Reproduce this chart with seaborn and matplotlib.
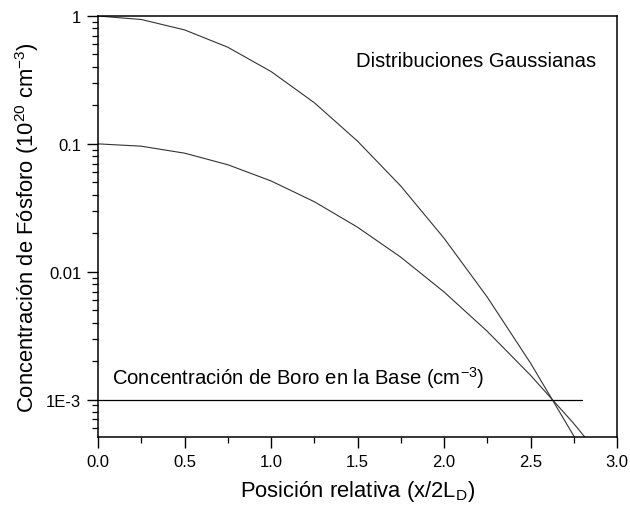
import matplotlib
matplotlib.use("Agg")
import matplotlib.pyplot as plt
import matplotlib.ticker as mticker
import numpy as np
import pandas as pd
import seaborn as sns

# Relative position x/2L_D
posicion = [0.0, 0.25, 0.5, 0.75, 1.0, 1.25, 1.5, 1.75, 2.0, 2.25, 2.5, 2.75, 3.0]
# Phosphorus profiles (10^20 cm^-3)
fosforo_alto = [1.0, 0.939, 0.779, 0.570, 0.368, 0.210, 0.105, 0.0468, 0.0183,
                0.00633, 0.00193, 0.00052, 0.000123]
fosforo_bajo = [0.1, 0.0959, 0.0846, 0.0687, 0.0513, 0.0353, 0.0223, 0.0130,
                0.00695, 0.00342, 0.00155, 0.00065, 0.00025]
# Base boron concentration
boro_x = [0.0, 2.8]
boro_y = [1e-3, 1e-3]

sns.set_theme(style="ticks")
plt.rcParams["font.family"] = ["Liberation Sans", "DejaVu Sans"]
plt.rcParams["mathtext.default"] = "regular"
plt.rcParams["text.color"] = "black"
plt.rcParams["axes.labelcolor"] = "black"

df = pd.DataFrame({
    "x": posicion * 2,
    "c": fosforo_alto + fosforo_bajo,
    "perfil": ["alto"] * len(posicion) + ["bajo"] * len(posicion),
})

fig = plt.figure(figsize=(6.30, 5.06), dpi=100)
ax = fig.add_axes([0.1556, 0.1344, 0.8238, 0.832])

sns.lineplot(data=df, x="x", y="c", units="perfil", estimator=None,
             color="#333333", lw=0.8, ax=ax, legend=False)
sns.lineplot(x=boro_x, y=boro_y, color="black", lw=0.9, ax=ax)

ax.set_yscale("log")
ax.set_xlim(0, 3.0)
ax.set_ylim(5.1e-4, 1.0)

ax.set_xticks([0.0, 0.5, 1.0, 1.5, 2.0, 2.5, 3.0])
ax.set_xticklabels(["0.0", "0.5", "1.0", "1.5", "2.0", "2.5", "3.0"])
ax.xaxis.set_minor_locator(mticker.MultipleLocator(0.25))
ax.set_yticks([1e-3, 1e-2, 1e-1, 1])
ax.set_yticklabels(["1E-3", "0.01", "0.1", "1"])
ax.yaxis.set_minor_locator(mticker.LogLocator(base=10, subs=np.arange(2, 10)))
ax.yaxis.set_minor_formatter(mticker.NullFormatter())

ax.tick_params(axis="both", which="major", direction="out", length=8, width=1.0,
               labelsize=12, colors="black", top=False, right=False, pad=4)
ax.tick_params(axis="both", which="minor", direction="out", length=4, width=0.9,
               colors="black", top=False, right=False)
for s in ax.spines.values():
    s.set_color("black")
    s.set_linewidth(1.1)

ax.set_xlabel("Posición relativa (x/2L$_D$)", fontsize=15.8, labelpad=7)
ax.set_ylabel("Concentración de Fósforo (10$^{20}$ cm$^{-3}$)", fontsize=15.8, labelpad=4)

ax.text(1.49, 0.45, "Distribuciones Gaussianas", fontsize=14.6, va="center", ha="left")
ax.text(0.08, 0.0015, "Concentración de Boro en la Base (cm$^{-3}$)", fontsize=14.6,
        va="center", ha="left")

fig.savefig("out.png", dpi=100)
